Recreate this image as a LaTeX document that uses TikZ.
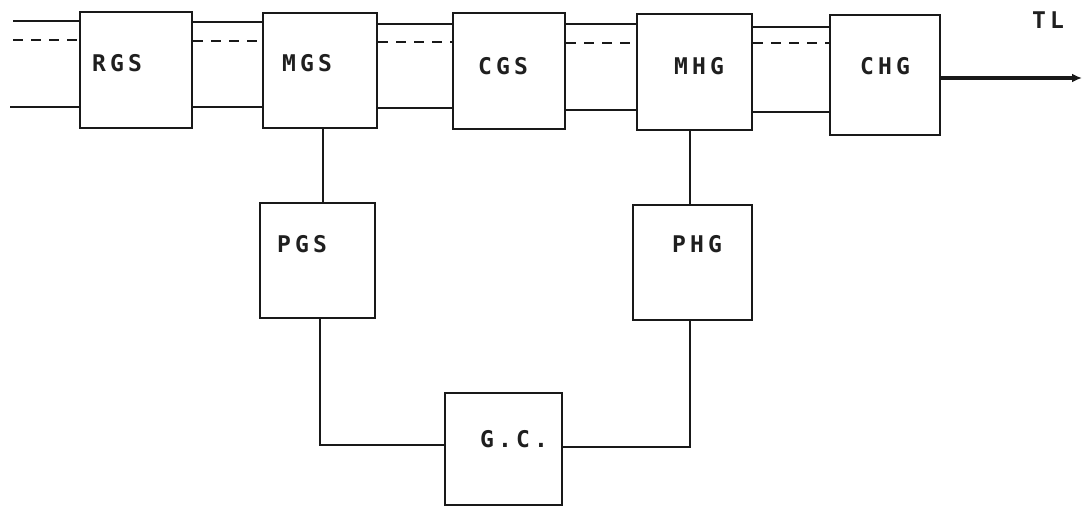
\documentclass[tikz,border=0pt]{standalone}
\usepackage{fontspec}
\newfontfamily\dotfont[LetterSpace=18]{DejaVu Sans Mono}
\usetikzlibrary{arrows.meta,calc}
\tikzset{
  blk/.style={draw=black!90, line width=2.8pt, inner sep=0pt},
  lbl/.style={font=\dotfont\bfseries\fontsize{23}{25}\selectfont, text=black!88, inner sep=0pt},
  wire/.style={draw=black!90, line width=2.8pt},
  dwire/.style={draw=black!90, line width=2.8pt, dash pattern=on 10pt off 8pt},
}
\begin{document}
\begin{tikzpicture}[x=1pt,y=-1pt]
\useasboundingbox (0,0) rectangle (1084,506);
% boxes
\node[blk, minimum width=112pt, minimum height=116pt] (RGS) at (136,70) {};
\node[blk, minimum width=114pt, minimum height=115pt] (MGS) at (320,70.5) {};
\node[blk, minimum width=112pt, minimum height=116pt] (CGS) at (509,71) {};
\node[blk, minimum width=115pt, minimum height=116pt] (MHG) at (694.5,72) {};
\node[blk, minimum width=110pt, minimum height=120pt] (CHG) at (885,75) {};
\node[blk, minimum width=115pt, minimum height=115pt] (PGS) at (317.5,260.5) {};
\node[blk, minimum width=119pt, minimum height=115pt] (PHG) at (692.5,262.5) {};
\node[blk, minimum width=117pt, minimum height=112pt] (GC) at (503.5,449) {};
% labels
\node[lbl] (tRGS) at (117,63) {RGS};
\node[lbl] (tMGS) at (307,63) {MGS};
\node[lbl] (tCGS) at (503,66) {CGS};
\node[lbl] (tMHG) at (699,66) {MHG};
\node[lbl] (tCHG) at (885,66) {CHG};
\node[lbl] (tPGS) at (302,244) {PGS};
\node[lbl] (tPHG) at (697,244) {PHG};
\node[lbl] (tGC) at (514,439) {G.C.};
% input ends
\coordinate (inT) at (13,21);
\coordinate (inD) at (13,40);
\coordinate (inB) at (10,107);
\draw[wire] (inT) -- (RGS.west |- inT);
\draw[dwire] (inD) -- (RGS.west |- inD);
\draw[wire] (inB) -- (RGS.west |- inB);
% RGS-MGS
\draw[wire] (RGS.east |- 0,22) -- (MGS.west |- 0,22);
\draw[dwire] (RGS.east |- 0,41) -- (MGS.west |- 0,41);
\draw[wire] (RGS.east |- 0,107) -- (MGS.west |- 0,107);
% MGS-CGS
\draw[wire] (MGS.east |- 0,24) -- (CGS.west |- 0,24);
\draw[dwire] (MGS.east |- 0,42) -- (CGS.west |- 0,42);
\draw[wire] (MGS.east |- 0,108) -- (CGS.west |- 0,108);
% CGS-MHG
\draw[wire] (CGS.east |- 0,24) -- (MHG.west |- 0,24);
\draw[dwire] (CGS.east |- 0,43) -- (MHG.west |- 0,43);
\draw[wire] (CGS.east |- 0,110) -- (MHG.west |- 0,110);
% MHG-CHG
\draw[wire] (MHG.east |- 0,27) -- (CHG.west |- 0,27);
\draw[dwire] (MHG.east |- 0,43) -- (CHG.west |- 0,43);
\draw[wire] (MHG.east |- 0,112) -- (CHG.west |- 0,112);
% output
\coordinate (out) at (1082,78);
\draw[wire, line width=3.6pt, -{Latex[length=10pt,width=9pt]}] (CHG.east |- out) -- (out);
\node[lbl] (TL) at (1048,20) {TL};
% vertical links
\draw[wire] (MGS.south -| 323,0) -- (PGS.north -| 323,0);
\draw[wire] (MHG.south -| 690,0) -- (PHG.north -| 690,0);
\draw[wire] (PGS.south -| 320,0) |- (GC.west |- 0,445);
\draw[wire] (GC.east |- 0,447) -| (PHG.south -| 690,0);
\end{tikzpicture}
\end{document}
